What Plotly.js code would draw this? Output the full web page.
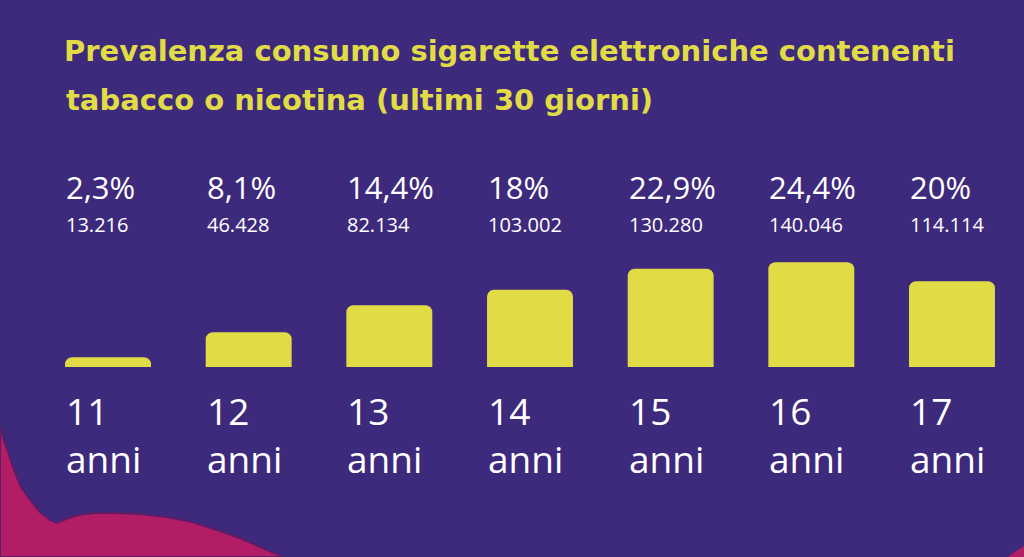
<!DOCTYPE html>
<html>
<head>
<meta charset="utf-8">
<script src="https://cdn.plot.ly/plotly-3.0.1.min.js"></script>
<style>html,body{margin:0;padding:0;background:#3e2a7c;}#chart{width:1024px;height:557px;}</style>
</head>
<body>
<div id="chart"></div>
<script>
// ---- data ----
const ages = ["11", "12", "13", "14", "15", "16", "17"];
const ageUnit = "anni";
const prevalence = [2.3, 8.1, 14.4, 18, 22.9, 24.4, 20];
const prevalenceLabels = ["2,3%", "8,1%", "14,4%", "18%", "22,9%", "24,4%", "20%"];
const counts = ["13.216", "46.428", "82.134", "103.002", "130.280", "140.046", "114.114"];
const titleLine1 = "Prevalenza consumo sigarette elettroniche contenenti";
const titleLine2 = "tabacco o nicotina (ultimi 30 giorni)";

// ---- layout constants ----
const W = 1024, H = 557, T = 200, B = 190;
const plotH = H - T - B;
const py = p => (H - B - p) / plotH;   // pixel y -> paper y
const px = p => p / W;                  // pixel x -> paper x

const YELLOW = "#e1dc46";
const WHITE = "#ffffff";

const trace = {
  type: "bar",
  x: ages,
  y: prevalence,
  marker: { color: YELLOW, cornerradius: 7, line: { width: 0 } },
  hoverinfo: "skip"
};

const annotations = [];
ages.forEach((a, i) => {
  // category axis: position by category index
  const base = { x: i, xref: "x", yref: "paper", xanchor: "left", yanchor: "middle",
                 xshift: -44, showarrow: false, align: "left" };
  const f = size => ({ family: "Open Sans, sans-serif", color: WHITE, size: size });
  annotations.push(Object.assign({}, base, { y: py(187), text: prevalenceLabels[i], font: f(31) }));
  annotations.push(Object.assign({}, base, { y: py(224), text: counts[i], font: f(20) }));
  annotations.push(Object.assign({}, base, { y: py(434), text: a + "<br>" + ageUnit, font: f(37) }));
});
annotations.push({
  text: titleLine2, xref: "paper", yref: "paper", x: px(64), y: py(100),
  xanchor: "left", yanchor: "middle", showarrow: false,
  font: { family: "DejaVu Sans, sans-serif", size: 29, weight: "bold", color: YELLOW }
});

function pathFrom(points) {
  return "M" + points.map(p => px(p[0]).toFixed(4) + "," + py(p[1]).toFixed(4)).join(" L") + " Z";
}
const blobLeft = [[0,427],[4,440],[8,452],[14,470],[21,487],[30,500],[40,512],[50,520],[57,523],[66,519],[78,515],[95,513],[115,513],[140,514],[167,517],[192,522],[217,530],[240,538],[260,547],[272,552],[283,557],[0,557]];
const blobRight = [[1024,546],[1018,550],[1012,554],[1008,557],[1024,557]];

const layout = {
  width: W, height: H,
  margin: { l: 0, r: 0, t: T, b: B, pad: 0 },
  paper_bgcolor: "#3e2a7c",
  plot_bgcolor: "rgba(0,0,0,0)",
  showlegend: false,
  bargap: 0.389,
  title: {
    text: titleLine1, x: px(64), xanchor: "left", xref: "container",
    y: 1 - 51 / H, yanchor: "middle", yref: "container",
    font: { family: "DejaVu Sans, sans-serif", size: 29, weight: "bold", color: YELLOW }
  },
  xaxis: { type: "category", range: [-0.768, 6.512], showticklabels: false, showgrid: false, zeroline: false, showline: false, ticks: "" },
  yaxis: { range: [0, 38.9], showticklabels: false, showgrid: false, zeroline: false, showline: false, ticks: "" },
  annotations: annotations,
  shapes: [
    { type: "path", xref: "paper", yref: "paper", path: pathFrom(blobLeft), fillcolor: "#b21d66", line: { color: "#5e1b66", width: 2 }, layer: "below" },
    { type: "path", xref: "paper", yref: "paper", path: pathFrom(blobRight), fillcolor: "#b21d66", line: { width: 0 }, layer: "below" }
  ]
};

Plotly.newPlot("chart", [trace], layout, { displayModeBar: false, staticPlot: true });
</script>
</body>
</html>
